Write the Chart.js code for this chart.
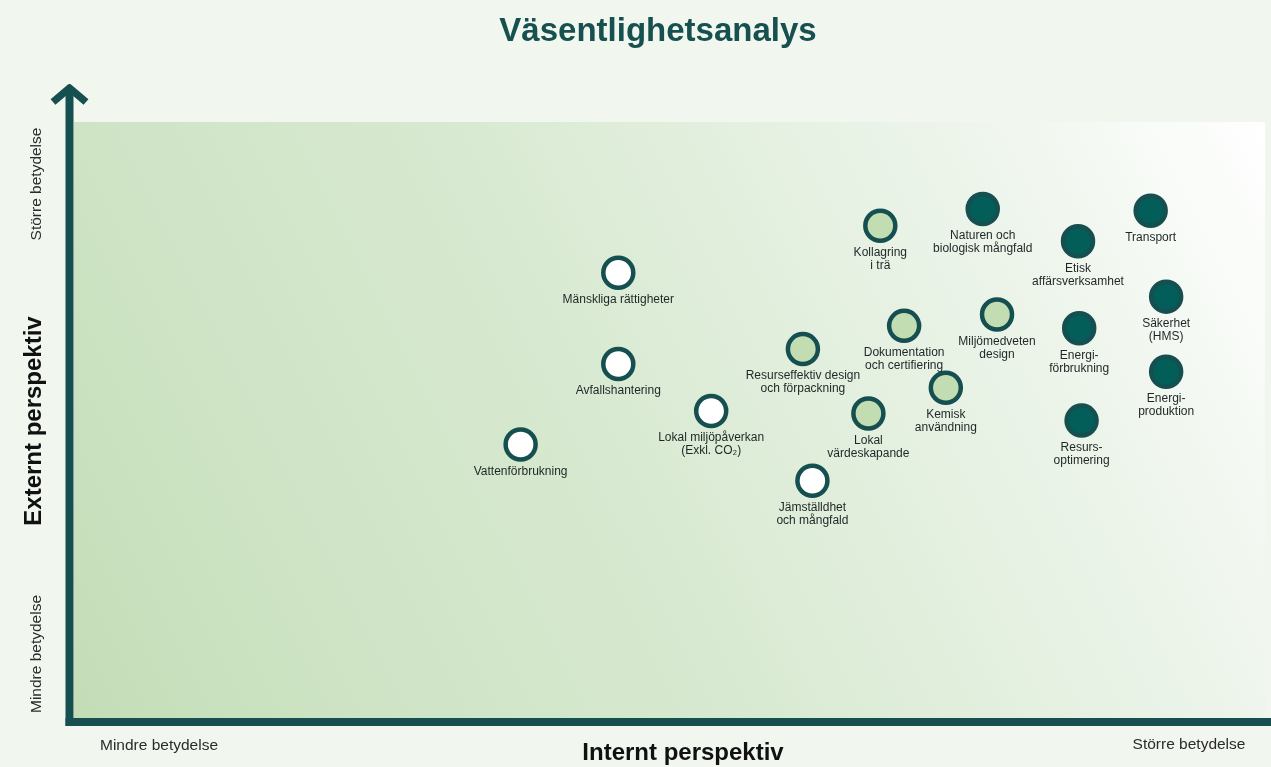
<!DOCTYPE html>
<html>
<head>
<meta charset="utf-8">
<script src="https://cdn.jsdelivr.net/npm/chart.js@4.4.1/dist/chart.umd.min.js"></script>
<style>
  html, body { margin: 0; padding: 0; background: #f1f6ef; overflow: hidden; width: 1271px; height: 767px; }
  #wrap { width: 1271px; height: 767px; position: relative; overflow: hidden; }
  canvas { display: block; }
</style>
</head>
<body>
<div id="wrap"><canvas id="c"></canvas></div>
<script>
// ---- Data ----
const topics = [
  "Mänskliga rättigheter",
  "Avfallshantering",
  "Vattenförbrukning",
  "Lokal miljöpåverkan\n(Exkl. CO₂)",
  "Jämställdhet\noch mångfald",
  "Resurseffektiv design\noch förpackning",
  "Lokal\nvärdeskapande",
  "Kollagring\ni trä",
  "Dokumentation\noch certifiering",
  "Kemisk\nanvändning",
  "Miljömedveten\ndesign",
  "Naturen och\nbiologisk mångfald",
  "Etisk\naffärsverksamhet",
  "Transport",
  "Säkerhet\n(HMS)",
  "Energi-\nförbrukning",
  "Energi-\nproduktion",
  "Resurs-\noptimering"
];
const internalPerspective = [45.7, 45.7, 37.5, 53.5, 62.0, 61.2, 66.7, 67.7, 69.7, 73.2, 77.5, 76.3, 84.3, 90.4, 91.7, 84.4, 91.7, 84.6];
const externalPerspective = [74.7, 59.4, 45.9, 51.5, 39.8, 61.9, 51.1, 82.6, 65.8, 55.4, 67.7, 85.4, 80.0, 85.1, 70.7, 65.4, 58.1, 49.9];
const groups = [0, 0, 0, 0, 0, 1, 1, 1, 1, 1, 1, 2, 2, 2, 2, 2, 2, 2];
const groupNames = ["Låg", "Medel", "Hög"];
const xTickLabels = ["Mindre betydelse", "Större betydelse"];
const yTickLabels = ["Mindre betydelse", "Större betydelse"];

// ---- Styles ----
const fills = ["#ffffff", "#c3ddb3", "#035e59"];
const ringColor = "#154f50";
const axisColor = "#154f50";

const datasets = groupNames.map((g, gi) => {
  const pts = [];
  topics.forEach((t, i) => {
    if (groups[i] === gi) pts.push({ x: internalPerspective[i], y: externalPerspective[i], label: t });
  });
  return {
    label: g,
    data: pts,
    backgroundColor: fills[gi],
    borderColor: ringColor,
    borderWidth: 4.5,
    pointRadius: 15,
    pointHoverRadius: 15
  };
});

const decor = {
  id: 'decor',
  beforeDatasetsDraw(chart) {
    const { ctx, chartArea: a } = chart;
    ctx.save();
    // gradient plot background
    const gr = ctx.createLinearGradient(a.left, a.bottom, a.right, a.top);
    gr.addColorStop(0, "#c4ddb7");
    gr.addColorStop(0.2, "#cee4c5");
    gr.addColorStop(0.44, "#d7e9d0");
    gr.addColorStop(0.8, "#eef5ec");
    gr.addColorStop(1, "#ffffff");
    ctx.fillStyle = gr;
    ctx.fillRect(a.left, a.top, a.right - a.left, a.bottom - a.top);

    // axes
    ctx.strokeStyle = axisColor;
    ctx.lineWidth = 8;
    ctx.lineCap = "butt";
    ctx.beginPath();
    ctx.moveTo(a.left - 4.5, 90);
    ctx.lineTo(a.left - 4.5, a.bottom + 8);
    ctx.stroke();
    ctx.beginPath();
    ctx.moveTo(a.left - 8.5, a.bottom + 4);
    ctx.lineTo(chart.width, a.bottom + 4);
    ctx.stroke();
    // arrow head
    ctx.lineJoin = "round";
    ctx.lineCap = "butt";
    ctx.lineWidth = 7.5;
    ctx.beginPath();
    ctx.moveTo(a.left - 21, 102);
    ctx.lineTo(a.left - 4.5, 88);
    ctx.lineTo(a.left + 12, 102);
    ctx.stroke();

    // title
    ctx.fillStyle = "#16504f";
    ctx.font = "bold 33px 'Liberation Sans', Arial, sans-serif";
    ctx.textAlign = "center";
    ctx.textBaseline = "alphabetic";
    ctx.fillText("Väsentlighetsanalys", 658, 41);

    // axis titles
    ctx.fillStyle = "#111";
    ctx.font = "bold 24px 'Liberation Sans', Arial, sans-serif";
    ctx.textBaseline = "middle";
    ctx.fillText("Internt perspektiv", 683, 753);
    ctx.save();
    ctx.translate(34, 421);
    ctx.rotate(-Math.PI / 2);
    ctx.fillText("Externt perspektiv", 0, 0);
    ctx.restore();

    // end labels
    ctx.fillStyle = "#2b2b2b";
    ctx.font = "15.5px 'Liberation Sans', Arial, sans-serif";
    ctx.fillText(xTickLabels[0], 159, 746);
    ctx.fillText(xTickLabels[1], 1189, 745);
    ctx.save();
    ctx.translate(37, 654);
    ctx.rotate(-Math.PI / 2);
    ctx.fillText(yTickLabels[0], 0, 0);
    ctx.restore();
    ctx.save();
    ctx.translate(37, 184);
    ctx.rotate(-Math.PI / 2);
    ctx.fillText(yTickLabels[1], 0, 0);
    ctx.restore();
    ctx.restore();
  },
  afterDatasetsDraw(chart) {
    const { ctx } = chart;
    ctx.save();
    ctx.fillStyle = "#1e2626";
    ctx.font = "12px 'Liberation Sans', Arial, sans-serif";
    ctx.textAlign = "center";
    ctx.textBaseline = "middle";
    chart.data.datasets.forEach((ds, di) => {
      const meta = chart.getDatasetMeta(di);
      meta.data.forEach((el, i) => {
        const lines = ds.data[i].label.split("\n");
        lines.forEach((ln, k) => {
          ctx.fillText(ln, el.x, el.y + 27 + k * 13);
        });
      });
    });
    ctx.restore();
  }
};

new Chart(document.getElementById('c'), {
  type: 'scatter',
  data: { datasets },
  options: {
    responsive: true,
    maintainAspectRatio: false,
    animation: false,
    layout: { autoPadding: false, padding: { left: 74, top: 122, right: 6, bottom: 49 } },
    scales: {
      x: { type: 'linear', min: 0, max: 100, display: false },
      y: { type: 'linear', min: 0, max: 100, display: false }
    },
    plugins: { legend: { display: false }, tooltip: { enabled: false } },
    events: []
  },
  plugins: [decor]
});
</script>
</body>
</html>
